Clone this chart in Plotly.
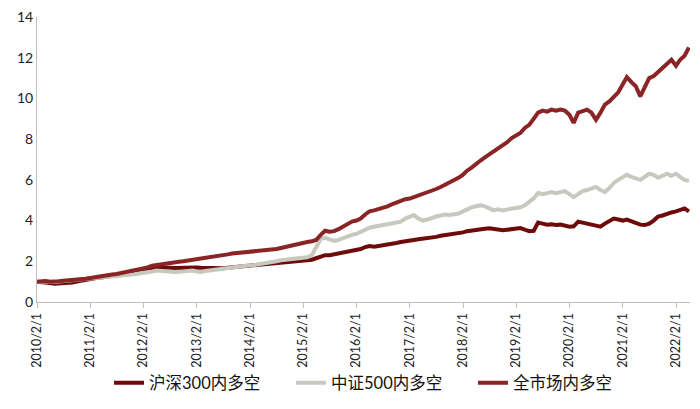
import pandas as pd
import plotly.graph_objects as go

dates = pd.date_range("2010-02-01", periods=148, freq="MS")

hs300 = [
    1.00, 0.99, 0.97, 0.93, 0.90, 0.91, 0.92, 0.93, 0.96, 1.00, 1.05, 1.10,
    1.15, 1.18, 1.20, 1.22, 1.25, 1.28, 1.30, 1.33, 1.38, 1.42, 1.46, 1.50,
    1.55, 1.60, 1.62, 1.65, 1.68, 1.70, 1.68, 1.67, 1.68, 1.70, 1.72, 1.72,
    1.70, 1.68, 1.67, 1.66, 1.68, 1.67, 1.66, 1.68, 1.70, 1.72, 1.74, 1.76,
    1.78, 1.80, 1.82, 1.84, 1.86, 1.88, 1.90, 1.93, 1.96, 1.98, 2.00, 2.02,
    2.03, 2.05, 2.08, 2.15, 2.25, 2.30, 2.30, 2.35, 2.40, 2.42, 2.45, 2.50,
    2.55, 2.60, 2.70, 2.75, 2.72, 2.75, 2.78, 2.80, 2.85, 2.90, 2.95, 3.00,
    3.02, 3.05, 3.08, 3.10, 3.15, 3.18, 3.20, 3.25, 3.28, 3.30, 3.33, 3.38,
    3.42, 3.48, 3.52, 3.55, 3.58, 3.60, 3.62, 3.58, 3.55, 3.52, 3.55, 3.58,
    3.60, 3.63, 3.55, 3.48, 3.50, 3.90, 3.85, 3.80, 3.82, 3.78, 3.80, 3.75,
    3.70, 3.72, 3.95, 3.90, 3.85, 3.80, 3.75, 3.70, 3.85, 4.00, 4.10, 4.05,
    4.00, 4.05, 3.95, 3.90, 3.80, 3.78, 3.85, 4.00, 4.20, 4.25, 4.35, 4.40,
    4.45, 4.50, 4.60, 4.45,
]

zz500 = [
    1.00, 1.01, 1.02, 1.00, 0.98, 1.00, 1.02, 1.04, 1.03, 1.06, 1.08, 1.10,
    1.12, 1.14, 1.16, 1.18, 1.20, 1.22, 1.25, 1.28, 1.30, 1.33, 1.36, 1.40,
    1.42, 1.46, 1.50, 1.55, 1.52, 1.50, 1.48, 1.47, 1.48, 1.50, 1.52, 1.55,
    1.50, 1.48, 1.52, 1.55, 1.57, 1.58, 1.62, 1.68, 1.72, 1.75, 1.78, 1.80,
    1.80, 1.82, 1.85, 1.88, 1.92, 1.96, 2.00, 2.05, 2.08, 2.10, 2.12, 2.15,
    2.18, 2.20, 2.30, 2.70, 3.10, 3.15, 3.05, 3.00, 3.05, 3.15, 3.25, 3.30,
    3.35, 3.45, 3.55, 3.65, 3.70, 3.72, 3.78, 3.82, 3.85, 3.90, 3.95, 4.10,
    4.20, 4.27, 4.10, 4.00, 4.05, 4.15, 4.20, 4.25, 4.30, 4.28, 4.32, 4.35,
    4.45, 4.55, 4.65, 4.70, 4.75, 4.70, 4.60, 4.50, 4.55, 4.50, 4.55, 4.60,
    4.60, 4.65, 4.75, 4.90, 5.10, 5.35, 5.30, 5.35, 5.40, 5.35, 5.40, 5.45,
    5.30, 5.15, 5.30, 5.45, 5.50, 5.60, 5.65, 5.50, 5.40, 5.60, 5.85, 6.00,
    6.15, 6.25, 6.15, 6.05, 6.00, 6.15, 6.30, 6.25, 6.10, 6.20, 6.30, 6.20,
    6.30, 6.15, 6.00, 5.95,
]

allmkt = [
    1.00, 1.02, 1.03, 1.00, 0.99, 1.02, 1.04, 1.06, 1.05, 1.08, 1.10, 1.14,
    1.18, 1.22, 1.25, 1.28, 1.32, 1.35, 1.38, 1.42, 1.46, 1.50, 1.55, 1.60,
    1.65, 1.70, 1.78, 1.82, 1.86, 1.90, 1.93, 1.96, 1.98, 2.00, 2.03, 2.06,
    2.08, 2.12, 2.15, 2.18, 2.20, 2.24, 2.28, 2.34, 2.38, 2.40, 2.42, 2.44,
    2.45, 2.48, 2.50, 2.52, 2.55, 2.57, 2.60, 2.65, 2.70, 2.75, 2.82, 2.90,
    2.92, 2.95, 2.98, 3.05, 3.30, 3.50, 3.45, 3.48, 3.58, 3.72, 3.85, 3.95,
    4.00, 4.10, 4.30, 4.45, 4.50, 4.55, 4.62, 4.70, 4.80, 4.90, 4.98, 5.05,
    5.08, 5.15, 5.20, 5.30, 5.38, 5.45, 5.55, 5.65, 5.75, 5.85, 5.95, 6.10,
    6.25, 6.45, 6.60, 6.80, 6.95, 7.10, 7.25, 7.40, 7.55, 7.65, 7.85, 8.05,
    8.20, 8.30, 8.55, 8.70, 9.00, 9.30, 9.40, 9.35, 9.45, 9.40, 9.45, 9.40,
    9.20, 8.80, 9.30, 9.35, 9.45, 9.30, 8.95, 9.30, 9.70, 9.85, 10.10, 10.30,
    10.70, 11.05, 10.80, 10.60, 10.10, 10.60, 11.00, 11.10, 11.30, 11.50, 11.70, 11.90,
    11.60, 11.90, 12.10, 12.50,
]

tick_dates = [f"{y}-02-01" for y in range(2010, 2023)]
tick_labels = [f"{y}/2/1" for y in range(2010, 2023)]

font_family = "Lato, 'Noto Sans CJK SC', sans-serif"

W, H = 692, 401  # page body has an 8px margin
ML, MR, MT, MB = 29, 10, 9, 107

fig = go.Figure()
fig.add_trace(go.Scatter(x=dates, y=hs300, mode="lines", name="沪深300内多空",
                         line=dict(color="#6E0A0A", width=4)))
fig.add_trace(go.Scatter(x=dates, y=zz500, mode="lines", name="中证500内多空",
                         line=dict(color="#C8C8BE", width=4)))
fig.add_trace(go.Scatter(x=dates, y=allmkt, mode="lines", name="全市场内多空",
                         line=dict(color="#8B2424", width=4)))

fig.update_layout(
    width=W, height=H,
    margin=dict(l=ML, r=MR, t=MT, b=MB, autoexpand=False),
    paper_bgcolor="white", plot_bgcolor="white",
    font=dict(family=font_family, size=13, color="#222222"),
    showlegend=True,
    legend=dict(orientation="h", x=101 / W, xref="container", xanchor="left",
                y=(H - 375) / H, yref="container", yanchor="middle",
                bgcolor="rgba(0,0,0,0)", traceorder="normal",
                entrywidth=137, entrywidthmode="pixels",
                font=dict(size=16.5, color="#111111")),
    xaxis=dict(
        type="date", automargin=False,
        range=["2010-02-01", "2022-05-08"],
        tickmode="array", tickvals=tick_dates, ticktext=tick_labels,
        tickangle=-90, ticks="outside", ticklen=5, tickcolor="#BFBFBF",
        showline=True, linecolor="#BFBFBF", linewidth=1,
        showgrid=False, zeroline=False,
        tickfont=dict(size=12.5),
    ),
    yaxis=dict(
        automargin=False,
        range=[0, 14], tickmode="array",
        tickvals=[0, 2, 4, 6, 8, 10, 12, 14],
        ticklabeloverflow="allow",
        showline=True, linecolor="#BFBFBF", linewidth=1,
        showgrid=False, zeroline=False, ticks="",
        tickfont=dict(size=14),
    ),
)

fig.write_html("out.html")
